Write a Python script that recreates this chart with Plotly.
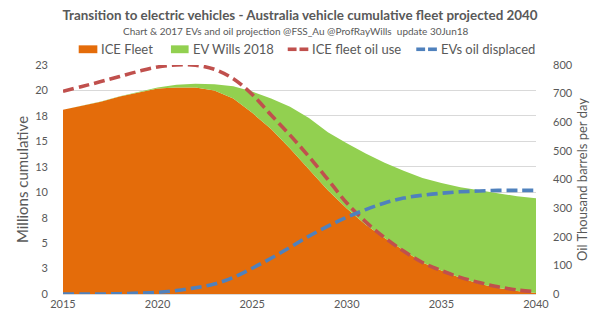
import plotly.graph_objects as go

years = list(range(2015, 2041))
ice_fleet = [18.1, 18.5, 18.9, 19.4, 19.8, 20.2, 20.3, 20.3, 20.0, 19.2, 17.8, 16.2, 14.3,
             12.2, 10.2, 8.4, 6.8, 5.5, 4.3, 3.1, 2.3, 1.6, 1.0, 0.6, 0.3, 0.1]
ev_fleet = [0.0, 0.01, 0.02, 0.04, 0.06, 0.1, 0.25, 0.35, 0.6, 1.2, 2.1, 3.0, 4.1,
            5.1, 5.7, 6.4, 7.0, 7.4, 7.8, 8.3, 8.6, 8.9, 9.2, 9.3, 9.3, 9.3]
ice_oil = [708, 725, 742, 760, 778, 793, 800, 799, 785, 752, 697, 625, 555,
           480, 400, 318, 252, 197, 150, 110, 82, 58, 40, 25, 14, 8]
ev_oil = [0, 0, 0, 1, 3, 6, 12, 22, 35, 58, 90, 125, 163,
          202, 237, 268, 295, 318, 335, 345, 352, 357, 360, 362, 362, 362]

left_ticks = [0, 2.5, 5, 7.5, 10, 12.5, 15, 17.5, 20, 22.5]
left_labels = ["0", "3", "5", "8", "10", "13", "15", "18", "20", "23"]
right_ticks = [0, 100, 200, 300, 400, 500, 600, 700, 800]
x_ticks = [2015, 2020, 2025, 2030, 2035, 2040]

FONT = "Lato"
GREY = "#595959"
C_ICE, C_EV, C_OIL, C_DISP = "#E46C0A", "#92D050", "#C0504D", "#4F81BD"

# plot-area geometry in pixels (for placing the custom legend)
W, H = 600, 322
ML, MR, MT, MB = 63, 55, 65, 24
PW, PH = W - ML - MR, H - MT - MB


def px(x):
    return (x - ML) / PW


def py(y):
    return (H - MB - y) / PH


fig = go.Figure()
fig.add_trace(go.Scatter(x=years, y=ice_fleet, name="ICE Fleet", stackgroup="fleet",
                         mode="lines", line=dict(width=0, color=C_ICE),
                         fillcolor=C_ICE, hoverinfo="skip"))
fig.add_trace(go.Scatter(x=years, y=ev_fleet, name="EV Wills 2018", stackgroup="fleet",
                         mode="lines", line=dict(width=0, color=C_EV),
                         fillcolor=C_EV, hoverinfo="skip"))
fig.add_trace(go.Scatter(x=years, y=ice_oil, name="ICE fleet oil use", yaxis="y2",
                         mode="lines", line=dict(color=C_OIL, width=3.6, dash="11px,5px",
                                                 shape="spline", smoothing=1),
                         hoverinfo="skip"))
fig.add_trace(go.Scatter(x=years, y=ev_oil, name="EVs oil displaced", yaxis="y2",
                         mode="lines", line=dict(color=C_DISP, width=3.6, dash="11px,5px",
                                                 shape="spline", smoothing=1),
                         hoverinfo="skip"))

# custom legend (matches the reference's single legend row)
LY = 49
shapes = [
    dict(type="rect", xref="paper", yref="paper", x0=px(79), x1=px(98), y0=py(53), y1=py(45),
         fillcolor=C_ICE, line=dict(width=0)),
    dict(type="rect", xref="paper", yref="paper", x0=px(173), x1=px(191), y0=py(53), y1=py(45),
         fillcolor=C_EV, line=dict(width=0)),
]
for x0, col in [(292, C_OIL), (423, C_DISP)]:
    for a, b in [(0, 9), (12, 21)]:
        shapes.append(dict(type="line", xref="paper", yref="paper",
                           x0=px(x0 + a), x1=px(x0 + b), y0=py(LY), y1=py(LY),
                           line=dict(color=col, width=3.6)))

legend_items = [("ICE Fleet", 100), ("EV Wills 2018", 193), ("ICE fleet oil use", 315),
                ("EVs oil displaced", 446)]
annotations = [dict(text=t, xref="paper", yref="paper", x=px(x), y=py(LY),
                    xanchor="left", yanchor="middle", showarrow=False,
                    font=dict(family=FONT, size=13, color=GREY))
               for t, x in legend_items]
annotations.append(dict(text="Chart &amp; 2017 EVs and oil projection @FSS_Au @ProfRayWills  update 30Jun18",
                        xref="paper", yref="paper", x=px(300), y=py(30),
                        xanchor="center", yanchor="middle", showarrow=False,
                        font=dict(family=FONT, size=10, color=GREY)))

fig.update_layout(
    width=W, height=H,
    margin=dict(l=ML, r=MR, t=MT, b=MB),
    paper_bgcolor="white", plot_bgcolor="white",
    font=dict(family=FONT, color=GREY, size=11),
    title=dict(text="<b>Transition to electric vehicles - Australia vehicle cumulative fleet projected 2040</b>",
               x=0.5, xref="container", xanchor="center",
               y=1 - 15 / H, yref="container", yanchor="middle",
               font=dict(family=FONT, size=13.4, color=GREY)),
    showlegend=False,
    xaxis=dict(range=[2015, 2040], tickvals=x_ticks, showgrid=False,
               showline=True, linecolor="#D9D9D9", linewidth=1,
               zeroline=False, ticks="", tickfont=dict(size=11, color=GREY)),
    yaxis=dict(range=[0, 22.5], tickvals=left_ticks, ticktext=left_labels,
               showgrid=True, gridcolor="#D9D9D9", gridwidth=1, zeroline=False,
               ticks="", ticklabelstandoff=14, tickfont=dict(size=11, color=GREY),
               title=dict(text="Millions cumulative", font=dict(size=15, color=GREY), standoff=2)),
    yaxis2=dict(range=[0, 800], tickvals=right_ticks, overlaying="y", side="right",
                showgrid=False, zeroline=False, ticks="", ticklabelstandoff=16,
                tickfont=dict(size=11, color=GREY),
                title=dict(text="Oil Thousand barrels per day", font=dict(size=13, color=GREY), standoff=6)),
    shapes=shapes,
    annotations=annotations,
)

fig.write_html("out.html")
